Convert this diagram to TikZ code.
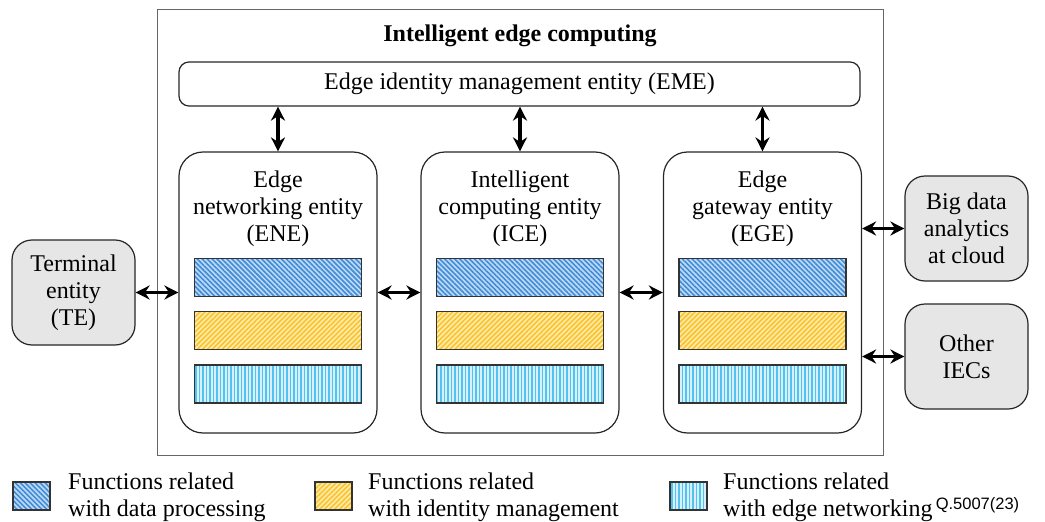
\documentclass[tikz,border=0pt]{standalone}
\usepackage{fontspec}
\setmainfont{Liberation Serif}
\newfontfamily\tagfont{Liberation Sans}
\usepackage{tikz}
\usetikzlibrary{arrows.meta,patterns.meta}

\definecolor{dpblue}{RGB}{65,140,215}
\definecolor{dplight}{RGB}{190,218,245}
\definecolor{imyellow}{RGB}{250,195,45}
\definecolor{imlight}{RGB}{255,235,170}
\definecolor{enblue}{RGB}{80,195,240}
\definecolor{enlight}{RGB}{215,240,252}
\definecolor{boxgray}{RGB}{230,230,230}

\begin{document}
\begin{tikzpicture}[x=1pt,y=-1pt,>={Stealth[length=14pt,width=14pt]},
	every node/.style={font=\fontsize{24}{27}\selectfont, inner sep=0pt},
	entity/.style={draw=black!85, line width=1.2pt, rounded corners=24pt, minimum width=198pt, minimum height=281pt},
	outside/.style={draw=black!85, line width=1.2pt, fill=boxgray, rounded corners=20pt, minimum width=123pt, minimum height=105pt, align=center},
	func/.style={draw=black!80, line width=1.4pt, minimum width=167pt, minimum height=38pt},
	dataproc/.style={func, preaction={fill=dplight}, pattern={Lines[angle=-45,distance=3.5pt,line width=1.6pt]}, pattern color=dpblue},
	identman/.style={func, preaction={fill=imlight}, pattern={Lines[angle=45,distance=3.5pt,line width=1.6pt]}, pattern color=imyellow},
	edgenet/.style={func, preaction={fill=enlight}, pattern={Lines[angle=90,distance=3.5pt,line width=1.5pt]}, pattern color=enblue},
	legendbox/.style={minimum width=37pt, minimum height=28pt},
	biarrow/.style={<->, line width=3.2pt}]
	\useasboundingbox (0,0) rectangle (1045,522);
	% frame and title
	\node [draw=black!60, line width=0.8pt, minimum width=726pt, minimum height=446pt] (iec) at (520,232) {};
	\node [font=\fontsize{24}{27}\selectfont\bfseries] (iectitle) at (520,36) {Intelligent edge computing};
	\node [draw=black!85, line width=1.2pt, rounded corners=10pt, minimum width=681pt, minimum height=44pt] (eme) at (519.5,84) {Edge identity management entity (EME)};
	% the three entities
	\foreach \n/\x/\t in {ene/278/{Edge\\networking entity\\(ENE)}, ice/520/{Intelligent\\computing entity\\(ICE)}, ege/762.5/{Edge\\gateway entity\\(EGE)}} {
		\node [entity] (\n) at (\x,292.5) {};
		\node [align=center] (\n-t) at (\x,209) {\t};
		\node [dataproc] (\n-dp) at (\x,277.5) {};
		\node [identman] (\n-im) at (\x,330.5) {};
		\node [edgenet] (\n-en) at (\x,384) {};
		\draw [biarrow] (eme.south -| \n.north) -- (\n.north);
	}
	% outside
	\node [outside] (te) at (73.5,292.5) {Terminal\\entity\\(TE)};
	\node [outside] (bigdata) at (966.5,228.5) {Big data\\analytics\\at cloud};
	\node [outside] (other) at (966.5,356.5) {Other\\IECs};
	\draw [biarrow] (te) -- (ene);
	\draw [biarrow] (ene) -- (ice);
	\draw [biarrow] (ice) -- (ege);
	\draw [biarrow] (ege.east |- bigdata.west) -- (bigdata.west);
	\draw [biarrow] (ege.east |- other.west) -- (other.west);
	% legend
	\node [dataproc, legendbox] (lgd-dp) at (31.5,496) {};
	\node [identman, legendbox] (lgd-im) at (333.5,496) {};
	\node [edgenet, legendbox] (lgd-en) at (688.5,496) {};
	\node [anchor=west, align=left] (lgd-dp-t) at (68,497) {Functions related\\with data processing};
	\node [anchor=west, align=left] (lgd-im-t) at (368,497) {Functions related\\with identity management};
	\node [anchor=west, align=left] (lgd-en-t) at (723,497) {Functions related\\with edge networking};
	\node [font=\tagfont\fontsize{16.5}{19}\selectfont] (qnum) at (977.5,505) {Q.5007(23)};
\end{tikzpicture}
\end{document}
